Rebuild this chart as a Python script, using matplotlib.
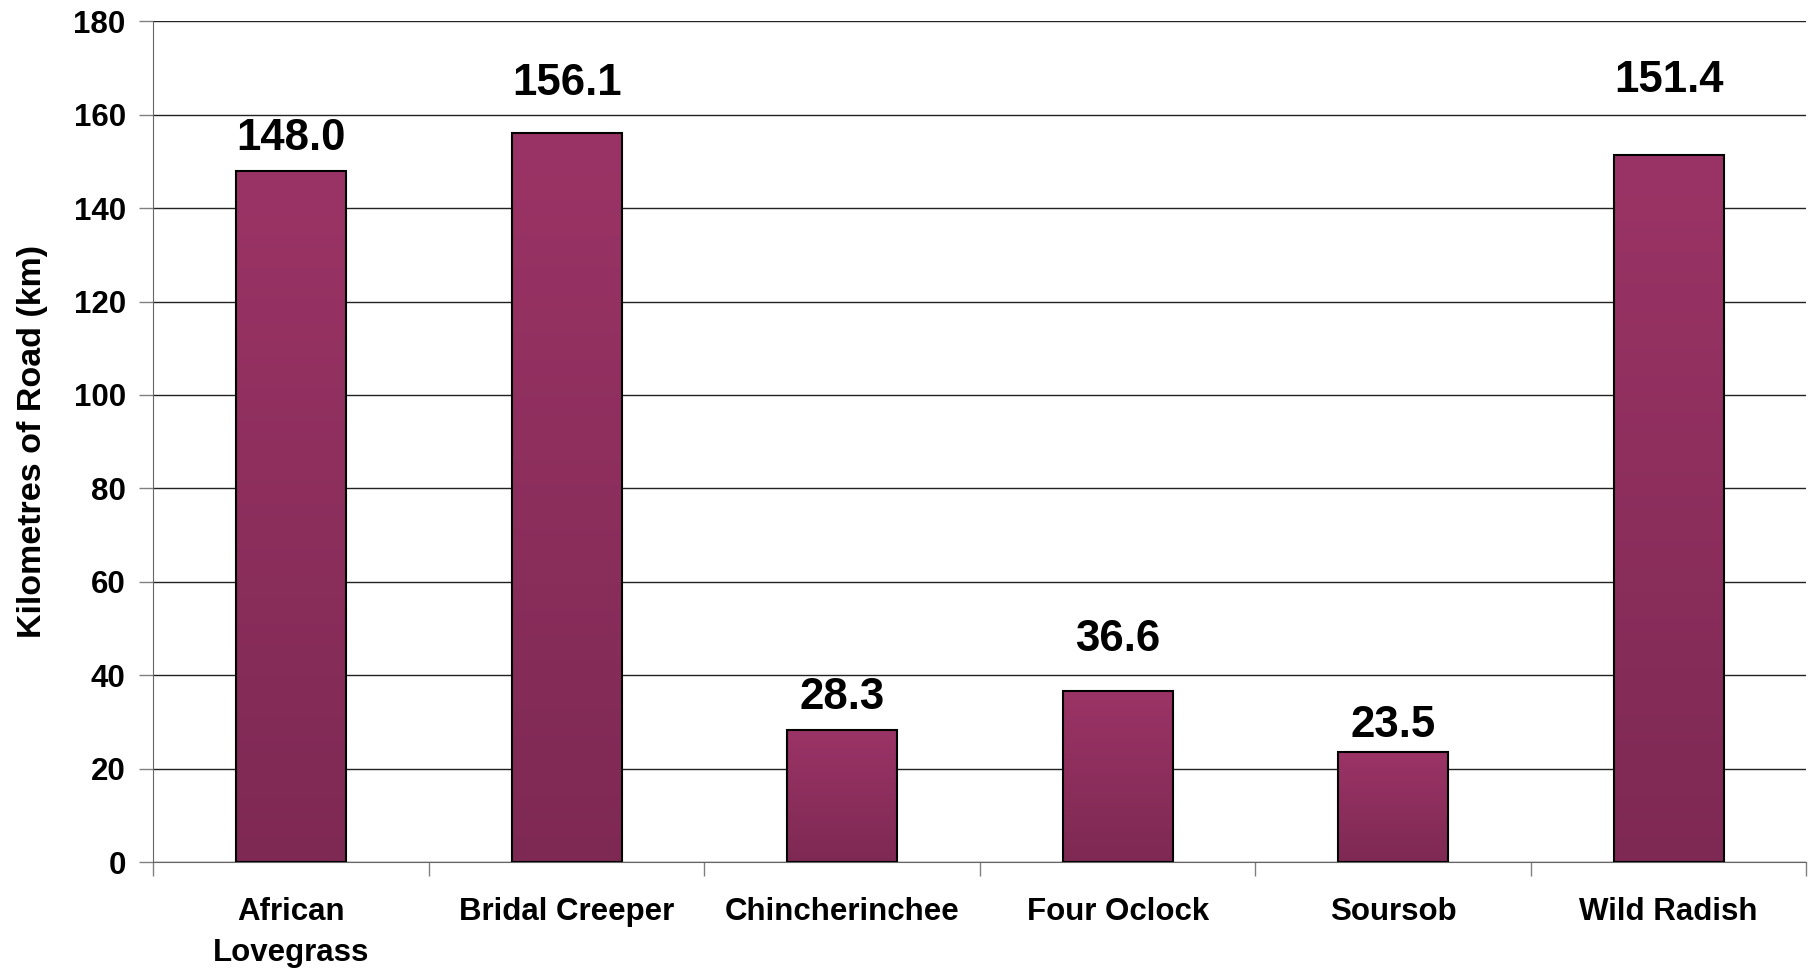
import numpy as np
import matplotlib.pyplot as plt
from matplotlib.colors import LinearSegmentedColormap

# Data
species = ['African\nLovegrass', 'Bridal Creeper', 'Chincherinchee',
           'Four Oclock', 'Soursob', 'Wild Radish']
km_road = [148.0, 156.1, 28.3, 36.6, 23.5, 151.4]
yticks = [0, 20, 40, 60, 80, 100, 120, 140, 160, 180]
# gap (points) between bar top and its value label, as placed in the original
label_gap = [15, 27, 15, 29, 11, 45]

plt.rcParams['font.family'] = ['Liberation Sans', 'DejaVu Sans']
plt.rcParams['font.weight'] = 'bold'

fig = plt.figure(figsize=(18.1, 9.68), dpi=100)
ax = fig.add_axes([0.0848, 0.1095, 0.9132, 0.8685])

# bar gradient: lighter at the top, darker at the bottom
cmap = LinearSegmentedColormap.from_list('bar', ['#7e2954', '#9b3466'])
grad = np.linspace(0, 1, 256).reshape(-1, 1)
w = 0.4
x = np.arange(len(species))
for xi, v in zip(x, km_road):
    ax.imshow(grad, cmap=cmap, origin='lower', aspect='auto',
              extent=[xi - w/2, xi + w/2, 0, v], zorder=3)
ax.bar(x, km_road, width=w, facecolor='none', edgecolor='black',
       linewidth=1.5, zorder=4)

for xi, v, g in zip(x, km_road, label_gap):
    ax.annotate(f'{v:.1f}', (xi, v), xytext=(0, g), textcoords='offset points',
                ha='center', va='baseline', fontsize=31.5, fontweight='bold')

ax.set_xlim(-0.5, len(species) - 0.5)
ax.set_ylim(0, 180)
ax.set_yticks(yticks)
ax.tick_params(axis='y', labelsize=22.5, length=10, width=1, color='#808080', pad=10)
ax.set_xticks(x)
ax.set_xticklabels(species, fontsize=22.5, fontweight='bold', linespacing=1.48)
ax.set_xticks(np.arange(-0.5, len(species)), minor=True)
ax.tick_params(axis='x', which='major', length=0, pad=25)
ax.tick_params(axis='x', which='minor', length=10, width=1, color='#808080')
ax.set_ylabel('Kilometres of Road (km)', fontsize=24.5, fontweight='bold', labelpad=18)

ax.grid(axis='y', color='#222222', linewidth=1)
ax.set_axisbelow(True)
for s in ['top', 'right']:
    ax.spines[s].set_visible(False)
ax.spines['left'].set_color('#666666')
ax.spines['bottom'].set_color('#666666')

fig.savefig('out.png', dpi=100, facecolor='white')
